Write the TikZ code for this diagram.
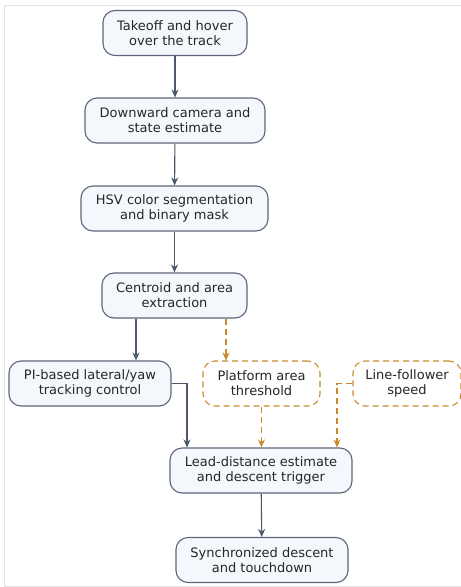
\documentclass[tikz,border=0pt]{standalone}
\usepackage{fontspec}
\setmainfont{DejaVu Sans}
\usetikzlibrary{arrows.meta}
\definecolor{boxfill}{HTML}{F4F8FC}
\definecolor{boxline}{HTML}{5C667A}
\definecolor{arrowc}{HTML}{4E586B}
\definecolor{orangec}{HTML}{C98A2E}
\definecolor{framec}{HTML}{E4E4E4}
\tikzset{
  stepbox/.style={draw=boxline, fill=boxfill, line width=1.1pt, rounded corners=12pt,
    align=center, inner sep=0pt, minimum height=45pt, font=\fontsize{13}{15.2}\selectfont, text=black!85},
  dashbox/.style={draw=orangec, fill=white, line width=1.1pt, rounded corners=12pt, dash pattern=on 6pt off 4pt,
    align=center, inner sep=0pt, minimum height=45pt, font=\fontsize{13}{15.2}\selectfont, text=black!85},
  flow/.style={draw=arrowc, line width=1.1pt, -{Stealth[length=8pt,width=7pt]}},
  dflow/.style={draw=orangec, line width=1.1pt, dash pattern=on 6pt off 4pt, -{Stealth[length=8pt,width=7pt]}}
}
\begin{document}
\begin{tikzpicture}[x=1pt,y=-1pt]
\useasboundingbox (0,0) rectangle (461,587);
\draw[framec, line width=1pt] (4,5) rectangle (475,586);
\node[stepbox, minimum width=144pt] (n1) at (175,33) {Takeoff and hover\\over the track};
\node[stepbox, minimum width=180pt] (n2) at (175,120.5) {Downward camera and\\state estimate};
\node[stepbox, minimum width=187pt] (n3) at (174.5,208.5) {HSV color segmentation\\and binary mask};
\node[stepbox, minimum width=145pt] (n4) at (174.5,295.5) {Centroid and area\\extraction};
\node[stepbox, minimum width=162pt] (n5) at (90,383.5) {PI-based lateral/yaw\\tracking control};
\node[dashbox, minimum width=117pt] (n6) at (261.5,383.5) {Platform area\\threshold};
\node[dashbox, minimum width=108pt] (n7) at (407,383.5) {Line-follower\\speed};
\node[stepbox, minimum width=182pt] (n8) at (261,470.5) {Lead-distance estimate\\and descent trigger};
\node[stepbox, minimum width=172pt] (n9) at (262,560) {Synchronized descent\\and touchdown};
\coordinate (c1) at (187,383.5);
\coordinate (c2) at (337,383.5);
\draw[flow] (n1) -- (n2);
\draw[flow] (n2) -- (n3);
\draw[flow] (n3) -- (n4);
\draw[flow] (n4.south -| 136,0) -- (n5.north -| 136,0);
\draw[dflow] (n4.south -| 226,0) -- (n6.north -| 226,0);
\draw[flow] (n5.east) -- (c1) -- (n8.north -| c1);
\draw[dflow] (n6.south) -- (n8.north -| n6.south);
\draw[dflow] (n7.west) -- (c2) -- (n8.north -| c2);
\draw[flow] (n8) -- (n9);
\end{tikzpicture}
\end{document}
